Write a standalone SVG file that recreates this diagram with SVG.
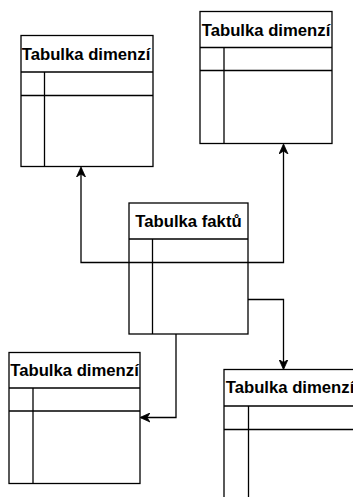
<svg xmlns="http://www.w3.org/2000/svg" width="353" height="497" viewBox="0 0 353 497">
<style>
.box{fill:#fff;stroke:#000;stroke-width:1.3}
.ln{fill:none;stroke:#000;stroke-width:1.3}
.t{font-family:"Liberation Sans",Arial,sans-serif;font-weight:bold;font-size:16.7px;text-anchor:middle;dominant-baseline:central;fill:#000}
.c{fill:none;stroke:#000;stroke-width:1.3}
</style>
<defs>
<marker id="ar" viewBox="0 0 10 10" refX="9" refY="5" markerWidth="10" markerHeight="10" markerUnits="userSpaceOnUse" orient="auto">
<path d="M0,0.5 L10,5 L0,9.5 L3,5 Z" fill="#000" stroke="#000" stroke-width="0.8"/>
</marker>
</defs>
<g id="dim1">
<rect class="box" x="21" y="35.5" width="132" height="131"/>
<line class="ln" x1="21" y1="72" x2="153" y2="72"/>
<line class="ln" x1="21" y1="95.5" x2="153" y2="95.5"/>
<line class="ln" x1="44.5" y1="72" x2="44.5" y2="166.5"/>
<text class="t" x="86" y="54">Tabulka dimenzí</text>
</g>
<g id="dim2">
<rect class="box" x="200" y="11.5" width="132" height="132"/>
<line class="ln" x1="200" y1="47.5" x2="332" y2="47.5"/>
<line class="ln" x1="200" y1="70.5" x2="332" y2="70.5"/>
<line class="ln" x1="224" y1="47.5" x2="224" y2="143.5"/>
<text class="t" x="266" y="30">Tabulka dimenzí</text>
</g>
<g id="fact">
<rect class="box" x="129" y="203" width="119" height="131"/>
<line class="ln" x1="129" y1="239" x2="248" y2="239"/>
<line class="ln" x1="129" y1="262.5" x2="248" y2="262.5"/>
<line class="ln" x1="152.5" y1="239" x2="152.5" y2="334"/>
<text class="t" x="188.5" y="221">Tabulka faktů</text>
</g>
<g id="dim3">
<rect class="box" x="9" y="352.5" width="131" height="131"/>
<line class="ln" x1="9" y1="388" x2="140" y2="388"/>
<line class="ln" x1="9" y1="411" x2="140" y2="411"/>
<line class="ln" x1="33" y1="388" x2="33" y2="483.5"/>
<text class="t" x="74.5" y="370">Tabulka dimenzí</text>
</g>
<g id="dim4">
<rect class="box" x="224" y="369.5" width="140" height="140"/>
<line class="ln" x1="224" y1="406" x2="364" y2="406"/>
<line class="ln" x1="224" y1="429.5" x2="364" y2="429.5"/>
<line class="ln" x1="248.5" y1="406" x2="248.5" y2="510"/>
<text class="t" x="290" y="387.5">Tabulka dimenzí</text>
</g>
<g id="connectors">
<path class="c" d="M129,262.5 H81 V168" marker-end="url(#ar)"/>
<path class="c" d="M248,262.5 H283.5 V145" marker-end="url(#ar)"/>
<path class="c" d="M248,299.5 H283.5 V368.5" marker-end="url(#ar)"/>
<path class="c" d="M176,334 V417.5 H141" marker-end="url(#ar)"/>
</g>
</svg>
